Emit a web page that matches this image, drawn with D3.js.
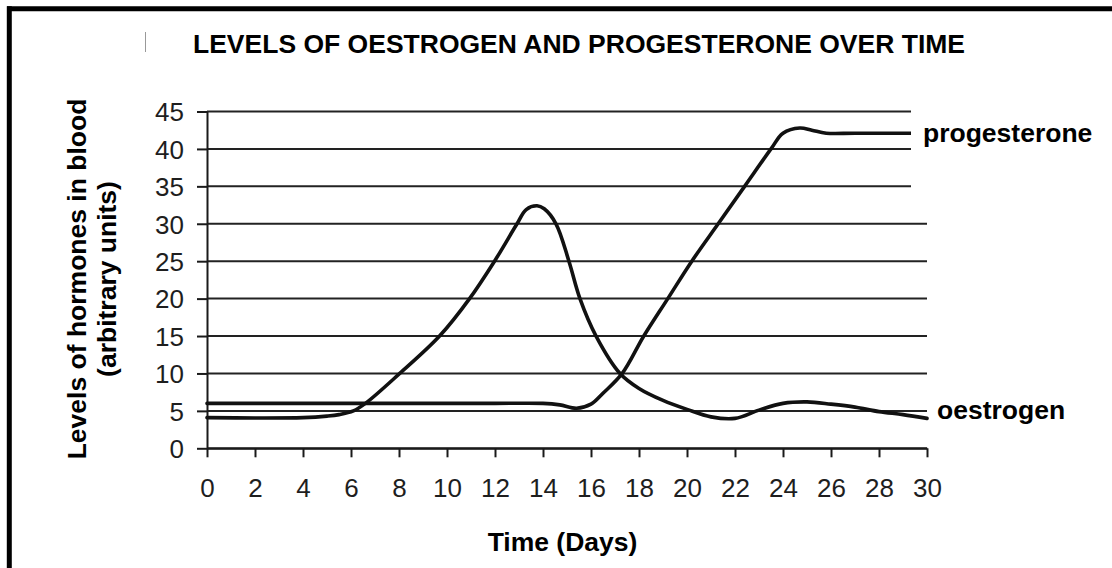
<!DOCTYPE html>
<html>
<meta charset="utf-8">
<style>
    body { margin: 0; background: #fff; }
    svg { display: block; font-family: "Liberation Sans", Arial, sans-serif; }
    .grid line { stroke: #222; stroke-width: 2px; }
    .axis path, .axis line { stroke: #1a1a1a; stroke-width: 2px; }
    .axis text { font-size: 26px; fill: #1e1e1e; }
    .line { fill: none; stroke: #111; stroke-width: 3.6px; stroke-linejoin: round; stroke-linecap: round; }
    .label { font-weight: bold; font-size: 26.5px; fill: #000; }
</style>

<body>
    <script src="https://d3js.org/d3.v7.min.js"></script>
    <script>

        // tick values
        var dayTicks = d3.range(0, 31, 2);
        var levelTicks = d3.range(0, 46, 5);

        // oestrogen
        var oestrogenDays = [0, 2, 4, 5, 5.5, 6.1, 6.6, 8.03, 9.69, 10.94, 11.98, 12.9, 13.3, 13.75, 14.05, 14.54, 15.08, 15.54, 16.21, 17.21, 18, 19, 20, 21, 22, 23, 24, 25, 26, 27, 28, 29, 30];
        var oestrogenLevels = [4.1, 4.05, 4.1, 4.3, 4.5, 5.0, 6.0, 10.0, 15.0, 20.0, 25.0, 29.9, 31.9, 32.4, 32.0, 30.0, 25.0, 20.0, 15.0, 10.0, 8.0, 6.4, 5.2, 4.2, 4.0, 5.1, 6.0, 6.2, 5.9, 5.5, 4.9, 4.5, 4.0];

        // progesterone
        var progesteroneDays = [0, 4, 8, 12, 14, 14.7, 15.4, 16, 16.5, 17.3, 18.2, 19.2, 20.2, 21.3, 22.4, 23.5, 24, 24.7, 25.2, 25.8, 27, 30];
        var progesteroneLevels = [6.0, 6.0, 6.0, 6.0, 6.0, 5.8, 5.35, 5.9, 7.35, 10, 15, 20, 25, 30, 35, 40, 42.1, 42.8, 42.5, 42.1, 42.1, 42.1];

        var width = 1112, height = 568;

        var svg = d3.select("body").append("svg")
            .attr("width", width)
            .attr("height", height);

        // set the ranges
        var x = d3.scaleLinear().domain([0, 30]).range([207, 927]);
        var y = d3.scaleLinear().domain([0, 45]).range([448.3, 111.5]);

        // frame (only top and left edges are in the picture)
        svg.append("line").attr("x1", 7).attr("x2", width).attr("y1", 8.7).attr("y2", 8.7)
            .attr("stroke", "#000").attr("stroke-width", 5);
        svg.append("line").attr("x1", 9.3).attr("x2", 9.3).attr("y1", 6.2).attr("y2", height)
            .attr("stroke", "#000").attr("stroke-width", 5);

        // stray mark left of the title
        svg.append("line").attr("x1", 145.5).attr("x2", 145.5).attr("y1", 32).attr("y2", 52)
            .attr("stroke", "#999").attr("stroke-width", 1);

        // title
        svg.append("text")
            .attr("class", "label")
            .attr("x", 193)
            .attr("y", 53)
            .text("LEVELS OF OESTROGEN AND PROGESTERONE OVER TIME");

        // horizontal grid lines
        svg.append("g").attr("class", "grid")
            .selectAll("line")
            .data(levelTicks)
            .enter().append("line")
            .attr("x1", x(0))
            .attr("x2", x(30))
            .attr("y1", function (d) { return y(d); })
            .attr("y2", function (d) { return y(d); });

        // Add the X Axis
        var xAxis = svg.append("g")
            .attr("class", "axis")
            .attr("transform", "translate(0," + y(0) + ")")
            .call(d3.axisBottom(x).tickValues(dayTicks).tickSize(9).tickSizeOuter(0));
        xAxis.selectAll("text").attr("y", 49).attr("dy", 0);

        // Add the Y Axis
        var yAxis = svg.append("g")
            .attr("class", "axis")
            .attr("transform", "translate(" + x(0) + ",0)")
            .call(d3.axisLeft(y).tickValues(levelTicks).tickSize(10).tickSizeOuter(0).tickPadding(13));
        yAxis.selectAll("text").attr("dy", "0.36em");

        // define the lines
        var valueline = d3.line()
            .x(function (d) { return x(d[0]); })
            .y(function (d) { return y(d[1]); })
            .curve(d3.curveCatmullRom.alpha(0.5));

        svg.append("path")
            .data([d3.zip(oestrogenDays, oestrogenLevels)])
            .attr("class", "line")
            .attr("d", valueline);

        svg.append("path")
            .data([d3.zip(progesteroneDays, progesteroneLevels)])
            .attr("class", "line")
            .attr("d", valueline);

        // series labels (progesterone sits on a white patch that cuts the top grid lines)
        svg.append("rect")
            .attr("x", 911).attr("y", 100)
            .attr("width", 200).attr("height", 100)
            .attr("fill", "#fff");

        svg.append("text")
            .attr("class", "label")
            .attr("x", 923)
            .attr("y", 142)
            .text("progesterone");

        svg.append("text")
            .attr("class", "label")
            .attr("x", 937)
            .attr("y", 419)
            .text("oestrogen");

        // x axis title
        svg.append("text")
            .attr("class", "label")
            .attr("x", 562.5)
            .attr("y", 551)
            .attr("text-anchor", "middle")
            .text("Time (Days)");

        // y axis title, two lines
        var yTitle = svg.append("text")
            .attr("class", "label")
            .attr("transform", "translate(86,279) rotate(-90)")
            .attr("text-anchor", "middle");
        yTitle.append("tspan").attr("x", 0).attr("y", 0).text("Levels of hormones in blood");
        yTitle.append("tspan").attr("x", 0).attr("y", 30).text("(arbitrary units)");

    </script>
</body>
</html>
